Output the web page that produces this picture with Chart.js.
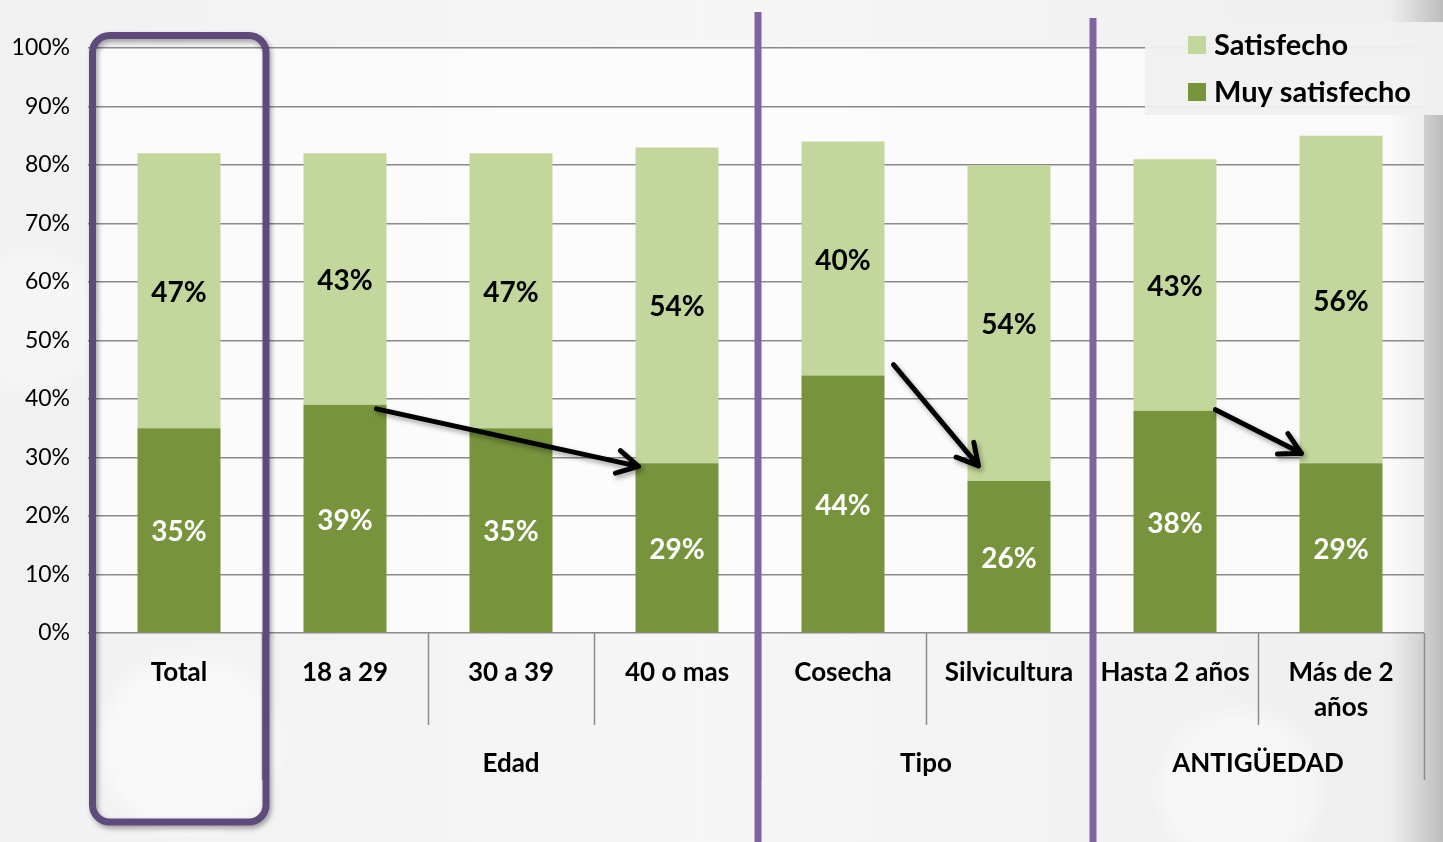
<!DOCTYPE html>
<html>
<head>
<meta charset="utf-8">
<style>
  html, body { margin: 0; padding: 0; }
  body {
    width: 1443px; height: 842px; overflow: hidden;
    background:
      radial-gradient(circle at 190px 745px, rgba(255,255,255,0.55) 0, rgba(255,255,255,0.45) 80px, rgba(255,255,255,0) 100px),
      radial-gradient(circle at 1240px 790px, rgba(255,255,255,0.5) 0, rgba(255,255,255,0.4) 70px, rgba(255,255,255,0) 90px),
      radial-gradient(circle at 30px 320px, rgba(255,255,255,0.35) 0, rgba(255,255,255,0.3) 60px, rgba(255,255,255,0) 80px),
      linear-gradient(to right, #f1f1f1 0px, #f6f6f6 700px, #efefef 1390px, #bdbdbd 1443px);
  }
  canvas { display: block; }
</style>
</head>
<body>
<canvas id="grafico" width="1443" height="842"></canvas>

<script src="https://cdn.jsdelivr.net/npm/chart.js@4.4.6/dist/chart.umd.min.js"></script>
<script>
// categorias y valores
const categorias = ['Total', '18 a 29', '30 a 39', '40 o mas', 'Cosecha', 'Silvicultura', 'Hasta 2 años', ['Más de 2', 'años']];
const muySatisfecho = [35, 39, 35, 29, 44, 26, 38, 29];
const satisfecho = [47, 43, 47, 54, 40, 54, 43, 56];
const yTicks = [0, 10, 20, 30, 40, 50, 60, 70, 80, 90, 100];

// grupos del eje x (indice de inicio de cada grupo)
const grupos = ['', 'Edad', 'Tipo', 'ANTIGÜEDAD'];
const inicioGrupo = [0, 1, 4, 6];

// flechas entre barras (desde, hasta)
const flechas = [[1, 3], [4, 5], [6, 7]];

const FUENTE = 'Lato, "Liberation Sans", sans-serif';
const VERDE_CLARO = '#c3d69b';
const VERDE_OSCURO = '#77933c';

// ajuste fino de los extremos de cada flecha [dx0, dy0, dx1, dy1]
const ajusteFlecha = [[-10, 4, 3, 3], [9, -11, 11, -15], [-1, -1, 2, -10]];

function limite(xs, i) {
  // borde izquierdo de la categoria i
  if (i <= 0) return xs.left;
  if (i >= categorias.length) return xs.right;
  return (xs.getPixelForValue(i - 1) + xs.getPixelForValue(i)) / 2;
}

function flecha(ctx, x0, y0, x1, y1) {
  const ang = Math.atan2(y1 - y0, x1 - x0);
  const L = 24, a = 0.5;
  ctx.beginPath();
  ctx.moveTo(x0, y0);
  ctx.lineTo(x1, y1);
  ctx.moveTo(x1 - L * Math.cos(ang - a), y1 - L * Math.sin(ang - a));
  ctx.lineTo(x1, y1);
  ctx.lineTo(x1 - L * Math.cos(ang + a), y1 - L * Math.sin(ang + a));
  ctx.stroke();
}

const dibujos = {
  id: 'dibujos',
  beforeDraw(chart) {
    const { ctx, chartArea: ca } = chart;
    ctx.save();
    ctx.fillStyle = 'rgba(255,255,255,0.65)';
    ctx.fillRect(ca.left, ca.top, ca.right - ca.left, ca.bottom - ca.top);
    ctx.restore();
  },
  afterDraw(chart) {
    const { ctx, chartArea: ca } = chart;
    const xs = chart.scales.x;
    const n = categorias.length;
    ctx.save();

    // separadores bajo el eje
    ctx.strokeStyle = '#8c8c8c';
    ctx.lineWidth = 1.5;
    for (let i = 1; i <= n; i++) {
      const esGrupo = inicioGrupo.includes(i) || i === n;
      const x = Math.round(limite(xs, i)) + 0.5;
      ctx.beginPath();
      ctx.moveTo(x, ca.bottom);
      ctx.lineTo(x, esGrupo ? ca.bottom + 147 : ca.bottom + 92);
      ctx.stroke();
    }

    // nombres de grupo
    ctx.fillStyle = '#000';
    ctx.font = 'bold 26px ' + FUENTE;
    ctx.textAlign = 'center';
    ctx.textBaseline = 'middle';
    grupos.forEach((g, k) => {
      if (!g) return;
      const a = inicioGrupo[k];
      const b = k + 1 < inicioGrupo.length ? inicioGrupo[k + 1] : n;
      ctx.fillText(g, (limite(xs, a) + limite(xs, b)) / 2, ca.bottom + 131);
    });

    // etiquetas de valor
    ctx.font = 'bold 28px ' + FUENTE;
    chart.data.datasets.forEach((ds, di) => {
      const meta = chart.getDatasetMeta(di);
      meta.data.forEach((el, i) => {
        ctx.fillStyle = di === 0 ? '#ffffff' : '#000000';
        ctx.fillText(ds.data[i] + '%', el.x, (el.y + el.base) / 2 + 2);
      });
    });

    // lineas moradas entre grupos
    ctx.strokeStyle = '#8064a2';
    ctx.lineWidth = 7;
    [[inicioGrupo[2], 12, -2], [inicioGrupo[3], 18, 1]].forEach(([i, y0, dx]) => {
      const x = limite(xs, i) + dx;
      ctx.beginPath();
      ctx.moveTo(x, y0);
      ctx.lineTo(x, chart.height);
      ctx.stroke();
    });

    // recuadro del Total
    ctx.shadowColor = 'rgba(0,0,0,0.35)';
    ctx.shadowBlur = 5;
    ctx.shadowOffsetX = 2;
    ctx.shadowOffsetY = 3;
    ctx.strokeStyle = '#5f4a7c';
    ctx.lineWidth = 7;
    const rx0 = ca.left - 3.5, rx1 = limite(xs, 1) + 4;
    ctx.beginPath();
    ctx.roundRect(rx0, ca.top - 12.5, rx1 - rx0, 822 - (ca.top - 12.5), 17);
    ctx.stroke();

    // flechas
    ctx.strokeStyle = '#000';
    ctx.lineWidth = 5;
    ctx.lineCap = 'round';
    ctx.lineJoin = 'round';
    const oscuro = chart.getDatasetMeta(0).data;
    flechas.forEach(([a, b], k) => {
      const ea = oscuro[a], eb = oscuro[b];
      const d = ajusteFlecha[k];
      flecha(ctx,
        ea.x + ea.width / 2 + d[0], ea.y + d[1],
        eb.x - eb.width / 2 + d[2], eb.y + d[3]);
    });
    ctx.shadowColor = 'transparent';

    // leyenda
    ctx.fillStyle = 'rgba(240,240,240,0.96)';
    ctx.fillRect(1145, 22, 298, 93);
    ctx.font = 'bold 29px ' + FUENTE;
    ctx.textAlign = 'left';
    const orden = [1, 0];
    orden.forEach((di, k) => {
      const ds = chart.data.datasets[di];
      const yc = 45 + k * 47;
      ctx.fillStyle = ds.backgroundColor;
      ctx.fillRect(1188, yc - 9, 18, 18);
      ctx.fillStyle = '#000';
      ctx.fillText(ds.label, 1214, yc + 1);
    });

    ctx.restore();
  }
};

new Chart(document.getElementById('grafico'), {
  type: 'bar',
  data: {
    labels: categorias,
    datasets: [
      { label: 'Muy satisfecho', data: muySatisfecho, backgroundColor: VERDE_OSCURO, barPercentage: 0.5, categoryPercentage: 1 },
      { label: 'Satisfecho', data: satisfecho, backgroundColor: VERDE_CLARO, barPercentage: 0.5, categoryPercentage: 1 }
    ]
  },
  options: {
    responsive: false,
    animation: false,
    devicePixelRatio: 1,
    layout: { padding: { top: 48, right: 19, left: 0, bottom: 0 } },
    plugins: {
      legend: { display: false },
      tooltip: { enabled: false }
    },
    scales: {
      x: {
        stacked: true,
        grid: { display: false },
        border: { display: false },
        ticks: {
          color: '#000',
          padding: 14,
          maxRotation: 0,
          autoSkip: false,
          font: { family: FUENTE, size: 26, weight: 'bold', lineHeight: 1.35 }
        },
        afterFit(s) { s.height = 842 - 633; }
      },
      y: {
        stacked: true,
        min: 0,
        max: 100,
        afterBuildTicks(s) { s.ticks = yTicks.map(v => ({ value: v })); },
        grid: { color: '#8a8a8a', lineWidth: 1.5, tickLength: 8 },
        border: { display: false },
        ticks: {
          color: '#000',
          padding: 18,
          font: { family: FUENTE, size: 23 },
          callback: v => v + '%'
        },
        afterFit(s) { s.width = 96; }
      }
    }
  },
  plugins: [dibujos]
});
</script>
</body>
</html>
